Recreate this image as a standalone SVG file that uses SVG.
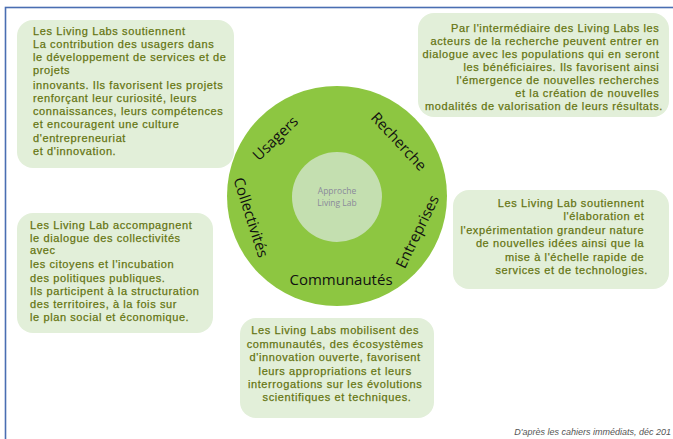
<svg xmlns="http://www.w3.org/2000/svg" width="673" height="439" viewBox="0 0 673 439">
  <style>
    .box { fill: #e2efd9; }
    .txt { font-family: "Liberation Sans", Arial, sans-serif; font-size: 11px; fill: #55660f; stroke: #7d8c1c; stroke-width: 0.25px; letter-spacing: 0.6px; }
    .ring { font-family: "Open Sans", "Liberation Sans", sans-serif; font-size: 15px; fill: #111; }
    .core { font-family: "Open Sans", "Liberation Sans", sans-serif; font-size: 8.5px; fill: #8a8a9a; text-anchor: middle; }
    .src { font-family: "Liberation Sans", Arial, sans-serif; font-size: 9px; font-style: italic; fill: #555; }
  </style>

  <rect width="673" height="439" fill="#ffffff"/>
  <!-- page frame -->
  <rect x="5.5" y="7.5" width="700" height="460" fill="none" stroke="#4a6eb2" stroke-width="1.6"/>

  <!-- central wheel -->
  <g id="wheel">
    <circle cx="337" cy="196" r="110" fill="#8dc641"/>
    <circle cx="337" cy="197" r="45" fill="#c4dfb0"/>
    <text class="core" x="337" y="194">Approche</text>
    <text class="core" x="337" y="206">Living Lab</text>
    <text class="ring" text-anchor="middle" transform="translate(279,142) rotate(-44)">Usagers</text>
    <text class="ring" text-anchor="middle" transform="translate(395,145) rotate(47)">Recherche</text>
    <text class="ring" text-anchor="middle" transform="translate(246,219) rotate(72)">Collectivités</text>
    <text class="ring" text-anchor="middle" transform="translate(422,234) rotate(-64)">Entreprises</text>
    <text class="ring" text-anchor="middle" x="341" y="285">Communautés</text>
  </g>

  <g id="usagers">
    <rect class="box" x="17" y="20" width="217" height="148" rx="16"/>
    <text class="txt" x="33">
      <tspan x="33" y="35">Les Living Labs soutiennent</tspan>
      <tspan x="33" y="48">La contribution des usagers dans</tspan>
      <tspan x="33" y="61">le développement de services et de</tspan>
      <tspan x="33" y="74">projets</tspan>
      <tspan x="33" y="89">innovants. Ils favorisent les projets</tspan>
      <tspan x="33" y="102">renforçant leur curiosité, leurs</tspan>
      <tspan x="33" y="115">connaissances, leurs compétences</tspan>
      <tspan x="33" y="128">et encouragent une culture</tspan>
      <tspan x="33" y="142">d'entrepreneuriat</tspan>
      <tspan x="33" y="155">et d'innovation.</tspan>
    </text>
  </g>

  <g id="recherche">
    <rect class="box" x="418" y="13" width="251" height="104" rx="16"/>
    <text class="txt" text-anchor="end">
      <tspan x="663" y="32">Par l'intermédiaire des Living Labs les</tspan>
      <tspan x="663" y="45">acteurs de la recherche peuvent entrer en</tspan>
      <tspan x="663" y="58">dialogue avec les populations qui en seront</tspan>
      <tspan x="663" y="71">les bénéficiaires. Ils favorisent ainsi</tspan>
      <tspan x="663" y="84">l'émergence de nouvelles recherches</tspan>
      <tspan x="663" y="97">et la création de nouvelles</tspan>
      <tspan x="663" y="110">modalités de valorisation de leurs résultats.</tspan>
    </text>
  </g>

  <g id="collectivites">
    <rect class="box" x="17" y="213" width="196" height="120" rx="16"/>
    <text class="txt">
      <tspan x="30" y="229">Les Living Lab accompagnent</tspan>
      <tspan x="30" y="242">le dialogue des collectivités</tspan>
      <tspan x="30" y="254">avec</tspan>
      <tspan x="30" y="268">les citoyens et l'incubation</tspan>
      <tspan x="30" y="282">des politiques  publiques.</tspan>
      <tspan x="30" y="295">Ils participent à la structuration</tspan>
      <tspan x="30" y="308">des territoires, à la fois sur</tspan>
      <tspan x="30" y="321">le plan social et économique.</tspan>
    </text>
  </g>

  <g id="entreprises">
    <rect class="box" x="453" y="190" width="216" height="99" rx="16"/>
    <text class="txt" text-anchor="end">
      <tspan x="648" y="207">Les Living Lab soutiennent</tspan>
      <tspan x="648" y="220">l'élaboration et</tspan>
      <tspan x="648" y="234">l'expérimentation grandeur nature</tspan>
      <tspan x="648" y="247">de nouvelles idées ainsi que la</tspan>
      <tspan x="648" y="261">mise à l'échelle rapide de</tspan>
      <tspan x="648" y="274">services et de technologies.</tspan>
    </text>
  </g>

  <g id="communautes">
    <rect class="box" x="240" y="318" width="194" height="100" rx="16"/>
    <text class="txt" text-anchor="middle">
      <tspan x="337" y="334">Les Living Labs mobilisent des</tspan>
      <tspan x="337" y="348">communautés, des écosystèmes</tspan>
      <tspan x="337" y="361">d'innovation ouverte, favorisent</tspan>
      <tspan x="337" y="375">leurs appropriations et leurs</tspan>
      <tspan x="337" y="388">interrogations sur les évolutions</tspan>
      <tspan x="337" y="401">scientifiques et techniques.</tspan>
    </text>
  </g>

  <text class="src" x="671" y="435" text-anchor="end">D'après les cahiers immédiats, déc 201</text>
</svg>
